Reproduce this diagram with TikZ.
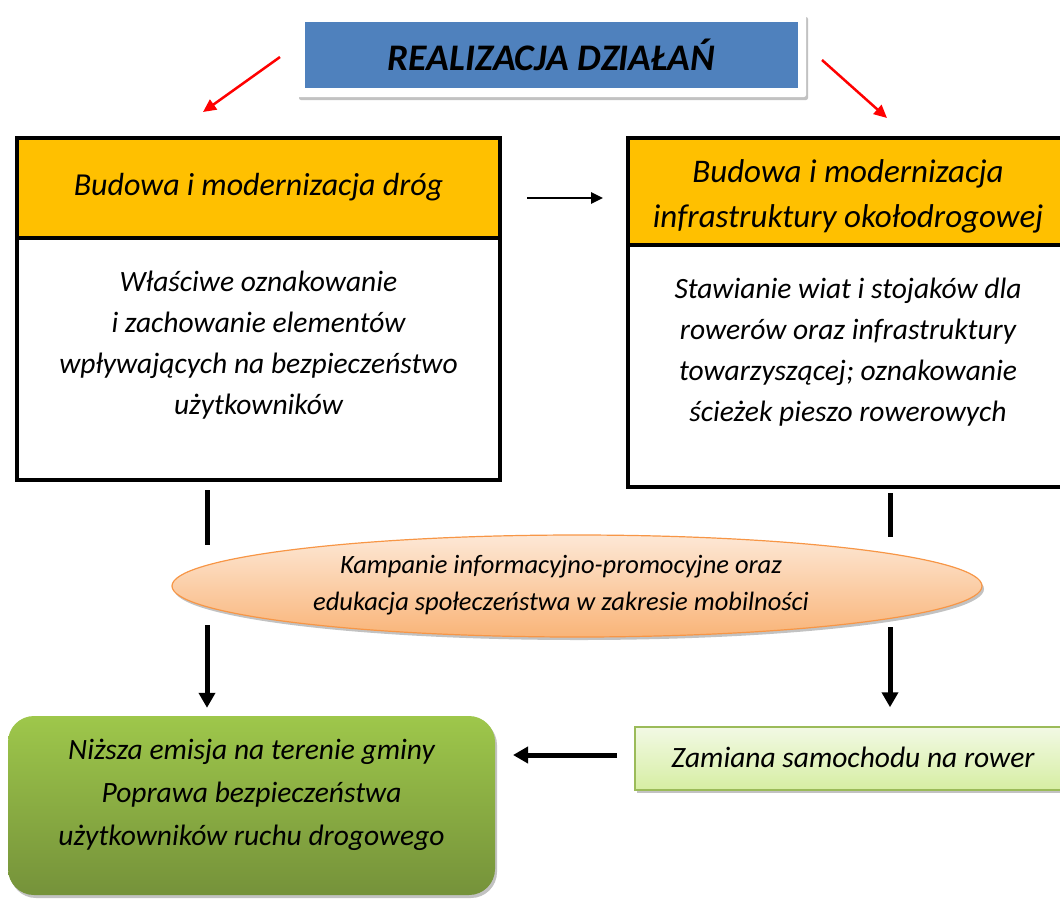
\documentclass[tikz,border=0pt]{standalone}
\usepackage{fontspec}
\setmainfont{Carlito}
\usetikzlibrary{arrows.meta,shadows,shapes.geometric}
\definecolor{hdrblue}{RGB}{79,129,189}
\definecolor{hdrorange}{RGB}{255,192,0}
\definecolor{ellTop}{RGB}{253,232,214}
\definecolor{ellBot}{RGB}{249,180,120}
\definecolor{ellLine}{RGB}{247,150,70}
\definecolor{grTop}{RGB}{158,199,75}
\definecolor{grBot}{RGB}{117,146,58}
\definecolor{lgTop}{RGB}{242,249,228}
\definecolor{lgBot}{RGB}{214,238,163}
\definecolor{lgLine}{RGB}{155,187,89}
\tikzset{
  txt/.style={font=\itshape\fontsize{29.5}{41}\selectfont, align=center, text=black},
  framebox/.style={draw=black, line width=4pt, inner sep=0pt},
  hdrbox/.style={framebox, fill=hdrorange},
  blkline/.style={line width=5pt, black},
  blkarrow/.style={line width=5pt, black, -{Triangle[length=15pt,width=16pt]}},
  redarrow/.style={line width=2.5pt, red, -{Triangle[length=13pt,width=12pt]}},
  shad/.style={drop shadow={shadow xshift=2pt,shadow yshift=-3pt,opacity=0.4,fill=black!60}}
}
\begin{document}
\begin{tikzpicture}[x=1pt,y=-1pt]
\useasboundingbox (0,0) rectangle (1060,898);
% top header
\node[fill=white, minimum width=509pt, minimum height=83pt, rounded corners=2pt, shad, inner sep=0pt] (topframe) at (551.5,55.5) {};
\node[fill=hdrblue, minimum width=493pt, minimum height=66pt, inner sep=0pt] (top) at (551.5,55) {};
\node[font=\bfseries\itshape\fontsize{37.5}{40}\selectfont] (toptxt) at (551.5,55) {REALIZACJA DZIAŁAŃ};
% left box
\node[framebox, fill=white, minimum width=483pt, minimum height=342pt] (lbox) at (258.5,309) {};
\node[hdrbox, minimum width=483pt, minimum height=100pt] (lhdr) at (258.5,188) {};
\node[txt, font=\itshape\fontsize{32}{41}\selectfont] (lhdrtxt) at (258.5,187) {Budowa i modernizacja dróg};
\node[txt] (lbodytxt) at (258.5,345) {Właściwe oznakowanie\\ i zachowanie elementów\\ wpływających na bezpieczeństwo\\ użytkowników};
% right box
\node[framebox, fill=white, minimum width=436pt, minimum height=349pt] (rbox) at (846,312.5) {};
\node[hdrbox, minimum width=436pt, minimum height=107pt] (rhdr) at (846,191.5) {};
\node[txt, font=\itshape\fontsize{33}{45}\selectfont] (rhdrtxt) at (848,196) {Budowa i modernizacja\\ infrastruktury okołodrogowej};
\node[txt] (rbodytxt) at (848,352) {Stawianie wiat i stojaków dla\\ rowerów oraz infrastruktury\\ towarzyszącej; oznakowanie\\ ścieżek pieszo rowerowych};
% ellipse
\node[ellipse, draw=ellLine, line width=1.2pt, top color=ellTop, bottom color=ellBot, minimum width=810pt, minimum height=102pt, shad, inner sep=0pt] (ell) at (577,586) {};
\node[txt, font=\itshape\fontsize{26.5}{37}\selectfont] (elltxt) at (561,585) {Kampanie informacyjno-promocyjne oraz\\ edukacja społeczeństwa w zakresie mobilności};
% green result box
\node[rounded corners=26pt, top color=grTop, bottom color=grBot, minimum width=487pt, minimum height=179pt, shad, inner sep=0pt] (res) at (251.5,805.5) {};
\node[txt, font=\itshape\fontsize{29.5}{43}\selectfont] (restxt) at (251.5,795) {Niższa emisja na terenie gminy\\ Poprawa bezpieczeństwa\\ użytkowników ruchu drogowego};
% bike box
\node[draw=lgLine, line width=1.5pt, top color=lgTop, bottom color=lgBot, minimum width=427pt, minimum height=63pt, shad, inner sep=0pt] (bike) at (848.5,758.5) {};
\node[txt] (biketxt) at (853,757) {Zamiana samochodu na rower};
% coordinates for connector ends
\coordinate (la1) at (207,490);
\coordinate (la2) at (207,545);
\coordinate (la3) at (207,625);
\coordinate (ra1) at (890,493);
\coordinate (ra2) at (890,537);
\coordinate (ra3) at (890,627);
\coordinate (rl) at (280,57);
\coordinate (rle) at (203,112);
\coordinate (rr) at (822,60);
\coordinate (rre) at (887,118);
\coordinate (ha) at (527,198);
\coordinate (hb) at (603,198);
\coordinate (ba) at (617,755);
\coordinate (bb) at (513,755);
% connectors
\draw[redarrow] (rl) -- (rle);
\draw[redarrow] (rr) -- (rre);
\draw[line width=2.5pt, -{Triangle[length=12pt,width=11pt]}] (ha) -- (hb);
\draw[blkline] (la1) -- (la2);
\draw[blkarrow] (la3) -- ([yshift=8pt]la3 |- res.north);
\draw[blkline] (ra1) -- (ra2);
\draw[blkarrow] (ra3) -- ([yshift=19pt]ra3 |- bike.north);
\draw[blkarrow] (ba) -- (bb);
\end{tikzpicture}
\end{document}
